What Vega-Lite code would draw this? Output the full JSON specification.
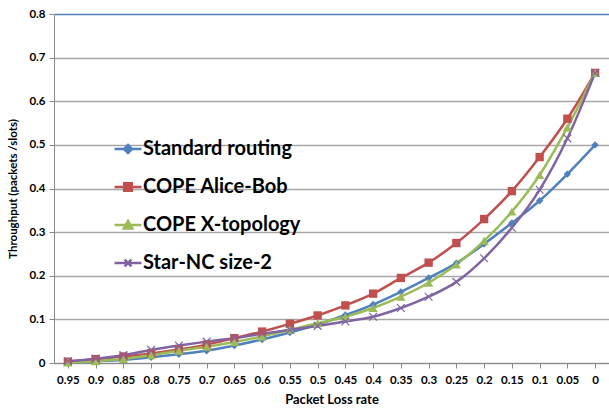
{
  "$schema": "https://vega.github.io/schema/vega-lite/v6.json",
  "width": 555,
  "height": 349,
  "autosize": {"type": "none"},
  "padding": {"left": 54, "top": 14, "right": 0, "bottom": 48},
  "background": "white",
  "config": {"view": {"stroke": null}, "font": "Lato"},
  "datasets": {
    "d": [
      {"loss": "0.95", "series": "Standard routing", "t": 0.002},
      {"loss": "0.9", "series": "Standard routing", "t": 0.004},
      {"loss": "0.85", "series": "Standard routing", "t": 0.007},
      {"loss": "0.8", "series": "Standard routing", "t": 0.013},
      {"loss": "0.75", "series": "Standard routing", "t": 0.02},
      {"loss": "0.7", "series": "Standard routing", "t": 0.028},
      {"loss": "0.65", "series": "Standard routing", "t": 0.04},
      {"loss": "0.6", "series": "Standard routing", "t": 0.054},
      {"loss": "0.55", "series": "Standard routing", "t": 0.07},
      {"loss": "0.5", "series": "Standard routing", "t": 0.088},
      {"loss": "0.45", "series": "Standard routing", "t": 0.11},
      {"loss": "0.4", "series": "Standard routing", "t": 0.134},
      {"loss": "0.35", "series": "Standard routing", "t": 0.163},
      {"loss": "0.3", "series": "Standard routing", "t": 0.195},
      {"loss": "0.25", "series": "Standard routing", "t": 0.229},
      {"loss": "0.2", "series": "Standard routing", "t": 0.273},
      {"loss": "0.15", "series": "Standard routing", "t": 0.321},
      {"loss": "0.1", "series": "Standard routing", "t": 0.372},
      {"loss": "0.05", "series": "Standard routing", "t": 0.433},
      {"loss": "0", "series": "Standard routing", "t": 0.5},
      {"loss": "0.95", "series": "COPE Alice-Bob", "t": 0.003},
      {"loss": "0.9", "series": "COPE Alice-Bob", "t": 0.009},
      {"loss": "0.85", "series": "COPE Alice-Bob", "t": 0.015},
      {"loss": "0.8", "series": "COPE Alice-Bob", "t": 0.022},
      {"loss": "0.75", "series": "COPE Alice-Bob", "t": 0.031},
      {"loss": "0.7", "series": "COPE Alice-Bob", "t": 0.042},
      {"loss": "0.65", "series": "COPE Alice-Bob", "t": 0.057},
      {"loss": "0.6", "series": "COPE Alice-Bob", "t": 0.072},
      {"loss": "0.55", "series": "COPE Alice-Bob", "t": 0.09},
      {"loss": "0.5", "series": "COPE Alice-Bob", "t": 0.109},
      {"loss": "0.45", "series": "COPE Alice-Bob", "t": 0.132},
      {"loss": "0.4", "series": "COPE Alice-Bob", "t": 0.159},
      {"loss": "0.35", "series": "COPE Alice-Bob", "t": 0.195},
      {"loss": "0.3", "series": "COPE Alice-Bob", "t": 0.23},
      {"loss": "0.25", "series": "COPE Alice-Bob", "t": 0.275},
      {"loss": "0.2", "series": "COPE Alice-Bob", "t": 0.33},
      {"loss": "0.15", "series": "COPE Alice-Bob", "t": 0.394},
      {"loss": "0.1", "series": "COPE Alice-Bob", "t": 0.472},
      {"loss": "0.05", "series": "COPE Alice-Bob", "t": 0.56},
      {"loss": "0", "series": "COPE Alice-Bob", "t": 0.665},
      {"loss": "0.95", "series": "COPE X-topology", "t": 0.001},
      {"loss": "0.9", "series": "COPE X-topology", "t": 0.004},
      {"loss": "0.85", "series": "COPE X-topology", "t": 0.009},
      {"loss": "0.8", "series": "COPE X-topology", "t": 0.018},
      {"loss": "0.75", "series": "COPE X-topology", "t": 0.028},
      {"loss": "0.7", "series": "COPE X-topology", "t": 0.037},
      {"loss": "0.65", "series": "COPE X-topology", "t": 0.048},
      {"loss": "0.6", "series": "COPE X-topology", "t": 0.061},
      {"loss": "0.55", "series": "COPE X-topology", "t": 0.076},
      {"loss": "0.5", "series": "COPE X-topology", "t": 0.091},
      {"loss": "0.45", "series": "COPE X-topology", "t": 0.106},
      {"loss": "0.4", "series": "COPE X-topology", "t": 0.126},
      {"loss": "0.35", "series": "COPE X-topology", "t": 0.152},
      {"loss": "0.3", "series": "COPE X-topology", "t": 0.184},
      {"loss": "0.25", "series": "COPE X-topology", "t": 0.226},
      {"loss": "0.2", "series": "COPE X-topology", "t": 0.28},
      {"loss": "0.15", "series": "COPE X-topology", "t": 0.347},
      {"loss": "0.1", "series": "COPE X-topology", "t": 0.431},
      {"loss": "0.05", "series": "COPE X-topology", "t": 0.54},
      {"loss": "0", "series": "COPE X-topology", "t": 0.665},
      {"loss": "0.95", "series": "Star-NC size-2", "t": 0.004},
      {"loss": "0.9", "series": "Star-NC size-2", "t": 0.01},
      {"loss": "0.85", "series": "Star-NC size-2", "t": 0.018},
      {"loss": "0.8", "series": "Star-NC size-2", "t": 0.03},
      {"loss": "0.75", "series": "Star-NC size-2", "t": 0.04},
      {"loss": "0.7", "series": "Star-NC size-2", "t": 0.049},
      {"loss": "0.65", "series": "Star-NC size-2", "t": 0.057},
      {"loss": "0.6", "series": "Star-NC size-2", "t": 0.067},
      {"loss": "0.55", "series": "Star-NC size-2", "t": 0.076},
      {"loss": "0.5", "series": "Star-NC size-2", "t": 0.085},
      {"loss": "0.45", "series": "Star-NC size-2", "t": 0.095},
      {"loss": "0.4", "series": "Star-NC size-2", "t": 0.106},
      {"loss": "0.35", "series": "Star-NC size-2", "t": 0.126},
      {"loss": "0.3", "series": "Star-NC size-2", "t": 0.152},
      {"loss": "0.25", "series": "Star-NC size-2", "t": 0.186},
      {"loss": "0.2", "series": "Star-NC size-2", "t": 0.24},
      {"loss": "0.15", "series": "Star-NC size-2", "t": 0.31},
      {"loss": "0.1", "series": "Star-NC size-2", "t": 0.397},
      {"loss": "0.05", "series": "Star-NC size-2", "t": 0.515},
      {"loss": "0", "series": "Star-NC size-2", "t": 0.665}
    ]
  },
  "data": {"name": "d"},
  "encoding": {
    "x": {
      "field": "loss",
      "type": "ordinal",
      "sort": ["0.95","0.9","0.85","0.8","0.75","0.7","0.65","0.6","0.55","0.5","0.45","0.4","0.35","0.3","0.25","0.2","0.15","0.1","0.05","0"],
      "scale": {"paddingInner": 0, "paddingOuter": 0},
      "axis": {
        "title": "Packet Loss rate",
        "titleFont": "Lato",
        "titleFontSize": 13,
        "titleFontWeight": "bold",
        "titleColor": "black",
        "titlePadding": 8,
        "labelAngle": 0,
        "labelFont": "Lato",
        "labelFontSize": 11.5,
        "labelFontWeight": "bold",
        "labelColor": "black",
        "labelPadding": 6,
        "bandPosition": 0,
        "tickColor": "#888888",
        "tickSize": 5,
        "domainColor": "#888888",
        "domainWidth": 1,
        "grid": false
      }
    },
    "y": {
      "field": "t",
      "type": "quantitative",
      "scale": {"domain": [0, 0.8], "nice": false},
      "axis": {
        "title": "Throughput (packets  /slots)",
        "titleFont": "Lato",
        "titleFontSize": 11.5,
        "titleFontWeight": "bold",
        "titleColor": "black",
        "titlePadding": 10,
        "values": [0, 0.1, 0.2, 0.3, 0.4, 0.5, 0.6, 0.7, 0.8],
        "labelExpr": "datum.value == 0 ? '0' : format(datum.value, '.1f')",
        "labelFont": "Lato",
        "labelFontSize": 11.5,
        "labelFontWeight": "bold",
        "labelColor": "black",
        "labelPadding": 4,
        "tickColor": "#888888",
        "tickSize": 5,
        "domainColor": "#888888",
        "grid": true,
        "gridColor": {"condition": {"test": "datum.value >= 0.79", "value": "#4f81bd"}, "value": "#a6a6a6"},
        "gridWidth": 1.5
      }
    },
    "color": {
      "field": "series",
      "type": "nominal",
      "scale": {
        "domain": ["Standard routing", "COPE Alice-Bob", "COPE X-topology", "Star-NC size-2"],
        "range": ["#4f81bd", "#c0504d", "#9bbb59", "#8064a2"]
      },
      "legend": {
        "title": null,
        "orient": "none",
        "direction": "vertical",
        "legendX": 59,
        "legendY": 120,
        "padding": 0,
        "labelFont": "Lato",
        "labelFontSize": 20,
        "labelFontWeight": "bold",
        "labelColor": "black",
        "labelOffset": 0,
        "labelLimit": 300,
        "symbolSize": 729,
        "symbolStrokeWidth": 2.5,
        "rowPadding": 13,
        "encode": {
          "symbols": {
            "update": {
              "shape": {"signal": "datum.value == 'Standard routing' ? 'M-1,0L1,0M0,-0.3L0.3,0L0,0.3L-0.3,0Z' : datum.value == 'COPE Alice-Bob' ? 'M-1,0L1,0M-0.28,-0.28L0.28,-0.28L0.28,0.28L-0.28,0.28Z' : datum.value == 'COPE X-topology' ? 'M-1,0L1,0M0,-0.3L0.32,0.25L-0.32,0.25Z' : 'M-1,0L1,0M-0.25,-0.25L0.25,0.25M0.25,-0.25L-0.25,0.25'"},
              "stroke": {"signal": "scale('color', datum.value)"},
              "fill": {"signal": "scale('color', datum.value)"},
              "strokeWidth": {"value": 2.5},
              "size": {"value": 729}
            }
          }
        }
      }
    }
  },
  "layer": [
    {
      "mark": {"type": "line", "interpolate": "monotone", "strokeWidth": 2.5}
    },
    {
      "transform": [{"filter": "datum.series != 'Star-NC size-2'"}],
      "mark": {"type": "point", "filled": true, "opacity": 1},
      "encoding": {
        "shape": {
          "field": "series",
          "type": "nominal",
          "scale": {"domain": ["Standard routing", "COPE Alice-Bob", "COPE X-topology"], "range": ["diamond", "square", "triangle-up"]},
          "legend": null
        },
        "size": {
          "field": "series",
          "type": "nominal",
          "scale": {"domain": ["Standard routing", "COPE Alice-Bob", "COPE X-topology"], "range": [55, 85, 80]},
          "legend": null
        }
      }
    },
    {
      "transform": [{"filter": "datum.series == 'Star-NC size-2'"}],
      "mark": {"type": "point", "filled": false, "shape": "M-1,-1L1,1M1,-1L-1,1", "size": 60, "strokeWidth": 1.2, "opacity": 1}
    }
  ]
}
